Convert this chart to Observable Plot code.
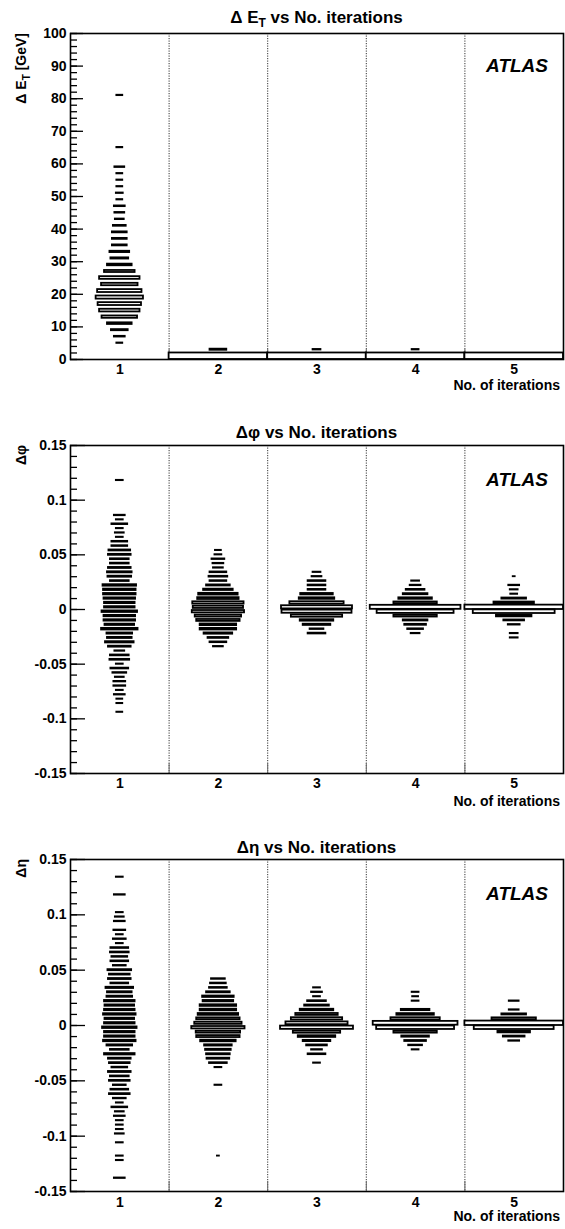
<!DOCTYPE html>
<html>
<head>
<meta charset="utf-8">
<script src="https://cdn.jsdelivr.net/npm/d3@7"></script>
<script src="https://cdn.jsdelivr.net/npm/@observablehq/plot@0.6"></script>
<style>
  html, body { margin: 0; padding: 0; background: white; }
  svg { display: block; }
</style>
</head>
<body>
<div id="chart"></div>
<script>
// ---------------- data: [bin centre, relative box size (max = 100)] ----------------
const iterations = [1, 2, 3, 4, 5];
const columnEdges = [1.5, 2.5, 3.5, 4.5];

// Panel 1 : Delta E_T [GeV], 2 GeV bins
const et1 = [[81,6],[65,6],[59,10],[57,6],[55,6],[53,6],[51,7],[49,6],[47,11],[45,10],[43,9],[41,13],[39,15],[37,15],[35,15],[33,20],[31,18],[29,25],[27,31],[25,41],[23,37],[21,45],[19,48],[17,44],[15,41],[13,36],[11,25],[9,17],[7,11],[5,6]];
const et2 = [[1,100],[3,17]];
const et3 = [[1,100],[3,8]];
const et4 = [[1,100],[3,7]];
const et5 = [[1,100]];

// Panel 2 : Delta phi, 0.004 bins
const phi1 = [[0.118,7],[0.086,11],[0.082,7],[0.078,16],[0.074,7],[0.070,9],[0.066,7],[0.062,16],[0.058,16],[0.054,22],[0.050,23],[0.046,19],[0.042,19],[0.038,23],[0.034,25],[0.030,24],[0.026,19],[0.022,34],[0.018,33],[0.014,33],[0.010,32],[0.006,31],[0.002,31],[-0.002,36],[-0.006,32],[-0.010,32],[-0.014,30],[-0.018,37],[-0.022,26],[-0.026,25],[-0.030,29],[-0.034,23],[-0.038,10],[-0.042,19],[-0.046,20],[-0.050,7],[-0.054,18],[-0.058,14],[-0.062,9],[-0.066,12],[-0.070,12],[-0.074,7],[-0.078,11],[-0.082,6],[-0.086,6],[-0.094,6]];
const phi2 = [[0.054,6],[0.050,7],[0.046,13],[0.042,11],[0.038,10],[0.034,17],[0.030,19],[0.026,17],[0.022,24],[0.018,30],[0.014,40],[0.010,42],[0.006,52],[0.002,51],[-0.002,53],[-0.006,47],[-0.010,44],[-0.014,37],[-0.018,37],[-0.022,29],[-0.026,21],[-0.030,17],[-0.034,10]];
const phi3 = [[0.034,8],[0.030,10],[0.026,18],[0.022,18],[0.018,18],[0.014,33],[0.010,36],[0.006,55],[0.002,72],[-0.002,71],[-0.006,52],[-0.010,34],[-0.014,28],[-0.018,14],[-0.022,18]];
const phi4 = [[0.026,8],[0.022,11],[0.018,19],[0.014,25],[0.010,34],[0.006,44],[0.002,92],[-0.002,78],[-0.006,44],[-0.010,25],[-0.014,22],[-0.018,16],[-0.022,9]];
const phi5 = [[0.030,2],[0.022,11],[0.018,8],[0.014,7],[0.010,25],[0.006,41],[0.002,100],[-0.002,83],[-0.006,36],[-0.010,21],[-0.014,12],[-0.022,8],[-0.026,8]];

// Panel 3 : Delta eta, 0.004 bins
const eta1 = [[0.134,7],[0.118,11],[0.102,7],[0.098,9],[0.094,11],[0.086,12],[0.082,7],[0.078,13],[0.074,7],[0.070,18],[0.066,19],[0.062,16],[0.058,18],[0.054,13],[0.050,24],[0.046,21],[0.042,23],[0.038,18],[0.034,28],[0.030,25],[0.026,26],[0.022,31],[0.018,30],[0.014,31],[0.010,33],[0.006,30],[0.002,31],[-0.002,35],[-0.006,31],[-0.010,31],[-0.014,33],[-0.018,26],[-0.022,19],[-0.026,31],[-0.030,23],[-0.034,21],[-0.038,16],[-0.042,23],[-0.046,19],[-0.050,21],[-0.054,13],[-0.058,18],[-0.062,21],[-0.066,13],[-0.070,7],[-0.074,16],[-0.078,9],[-0.082,11],[-0.086,7],[-0.090,7],[-0.094,7],[-0.098,9],[-0.106,7],[-0.118,7],[-0.122,7],[-0.138,11]];
const eta2 = [[0.042,14],[0.038,16],[0.034,18],[0.030,24],[0.026,32],[0.022,31],[0.018,37],[0.014,37],[0.010,41],[0.006,44],[0.002,48],[-0.002,54],[-0.006,45],[-0.010,44],[-0.014,36],[-0.018,28],[-0.022,26],[-0.026,24],[-0.030,23],[-0.034,18],[-0.038,7],[-0.054,7],[-0.118,2]];
const eta3 = [[0.034,7],[0.030,11],[0.026,7],[0.022,19],[0.018,25],[0.014,34],[0.010,43],[0.006,52],[0.002,63],[-0.002,74],[-0.006,48],[-0.010,38],[-0.014,28],[-0.018,21],[-0.022,11],[-0.026,18],[-0.034,7]];
const eta4 = [[0.030,7],[0.026,6],[0.022,7],[0.014,29],[0.010,38],[0.006,50],[0.002,86],[-0.002,79],[-0.006,44],[-0.010,28],[-0.014,22],[-0.018,14],[-0.022,7]];
const eta5 = [[0.022,10],[0.014,10],[0.010,25],[0.006,45],[0.002,100],[-0.002,81],[-0.006,33],[-0.010,22],[-0.014,11]];

// axis ticks
const etMajor = [0,10,20,30,40,50,60,70,80,90,100];
const etMinor = d3.range(0, 101, 2);
const angMajor = [-0.15,-0.1,-0.05,0,0.05,0.1,0.15];
const angMinor = d3.range(-15, 16, 1).map(v => v / 100);

// ---------------- drawing ----------------
const FONT = "'Liberation Sans', Arial, Helvetica, sans-serif";
const W = 565, ML = 70, MR = 2;

function boxRows(cols, binH) {
  const rows = [];
  cols.forEach((col, i) => {
    const it = iterations[i];
    for (const [c, v] of col) {
      const f = v / 100;
      rows.push({x1: it - f / 2, x2: it + f / 2, y1: c - f * binH / 2, y2: c + f * binH / 2});
    }
  });
  return rows;
}

function panel(opt) {
  const frameW = W - ML - opt.mr;
  const frameH = opt.height - opt.mt - opt.mb;
  const svg = Plot.plot({
    width: W, height: opt.height,
    marginTop: opt.mt, marginBottom: opt.mb, marginLeft: ML, marginRight: opt.mr,
    style: {fontFamily: FONT, fontWeight: "bold", fontSize: "14px", background: "white", color: "black", overflow: "visible"},
    x: {domain: [0.5, 5.5]},
    y: {domain: opt.yDomain},
    marks: [
      Plot.ruleX(columnEdges, {stroke: "#333", strokeWidth: 1, strokeDasharray: "1.2,1.3"}),
      Plot.ruleX(columnEdges, {stroke: "#666", strokeWidth: 1, insetTop: frameH - 10}),
      Plot.rect(boxRows(opt.cols, opt.binH), {x1: "x1", x2: "x2", y1: "y1", y2: "y2", fill: "white", stroke: "black", strokeWidth: 1.8}),
      Plot.ruleY(opt.minor, {stroke: "black", strokeWidth: 1.3, insetRight: frameW - 7}),
      Plot.ruleY(opt.major, {stroke: "black", strokeWidth: 1.3, insetRight: frameW - opt.majorLen}),
      Plot.axisY(opt.major, {tickSize: 0, tickPadding: 4, tickFormat: opt.fmt, label: null}),
      Plot.axisX(iterations, {tickSize: 0, tickPadding: opt.xPad, label: null}),
      Plot.frame({stroke: "black", strokeWidth: 1.6})
    ]
  });
  const s = d3.select(svg);
  const g = s.append("g").attr("font-family", FONT).attr("font-weight", "bold").attr("fill", "black");
  // title
  const t = g.append("text").attr("x", ML + frameW / 2).attr("y", opt.mt - opt.titleGap)
    .attr("text-anchor", "middle").attr("font-size", 17);
  opt.title(t);
  // ATLAS
  g.append("text").attr("x", 548).attr("y", opt.mt + opt.atlasDy).attr("text-anchor", "end")
    .attr("font-size", 19).attr("font-style", "italic").text("ATLAS");
  // x title
  g.append("text").attr("x", 560).attr("y", opt.height - opt.mb + opt.xTitleDy)
    .attr("text-anchor", "end").attr("font-size", 14).text("No. of iterations");
  // y title
  const yt = g.append("text").attr("transform", `translate(26,${opt.mt}) rotate(-90)`)
    .attr("text-anchor", "end").attr("font-size", 14);
  opt.ytitle(yt);
  return svg;
}

const root = document.getElementById("chart");

root.appendChild(panel({
  cols: [et1, et2, et3, et4, et5], binH: 2,
  yDomain: [0, 100], major: etMajor, minor: etMinor, majorLen: 13,
  fmt: d => String(d),
  height: 405, mt: 33, mb: 46, mr: MR, xPad: 5, titleGap: 10, atlasDy: 39, xTitleDy: 31,
  title: t => { t.append("tspan").text("Δ E"); t.append("tspan").attr("dy", 4).attr("font-size", 12).text("T");
                t.append("tspan").attr("dy", -4).text(" vs No. iterations"); },
  ytitle: t => { t.append("tspan").text("Δ E"); t.append("tspan").attr("dy", 4).attr("font-size", 10).text("T");
                 t.append("tspan").attr("dy", -4).text(" [GeV]"); }
}));

root.appendChild(panel({
  cols: [phi1, phi2, phi3, phi4, phi5], binH: 0.004,
  yDomain: [-0.15, 0.15], major: angMajor, minor: angMinor, majorLen: 15,
  fmt: d => String(+d.toFixed(2)),
  height: 415, mt: 40, mb: 47, mr: MR, xPad: 5, titleGap: 7, atlasDy: 41, xTitleDy: 33,
  title: t => t.text("Δφ vs No. iterations"),
  ytitle: t => t.text("Δφ")
}));

root.appendChild(panel({
  cols: [eta1, eta2, eta3, eta4, eta5], binH: 0.004,
  yDomain: [-0.15, 0.15], major: angMajor, minor: angMinor, majorLen: 15,
  fmt: d => String(+d.toFixed(2)),
  height: 409, mt: 39, mb: 38, mr: MR, xPad: 6, titleGap: 6, atlasDy: 41, xTitleDy: 30,
  title: t => t.text("Δη vs No. iterations"),
  ytitle: t => t.text("Δη")
}));
</script>
</body>
</html>
